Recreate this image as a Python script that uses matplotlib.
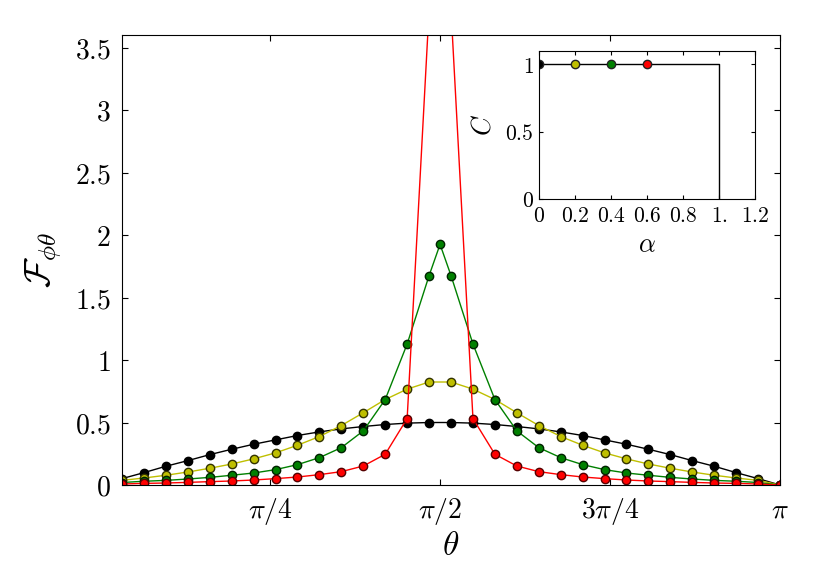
import matplotlib
matplotlib.use("Agg")
import matplotlib.pyplot as plt
import numpy as np

plt.rcParams['mathtext.fontset'] = 'cm'
plt.rcParams['font.family'] = 'serif'
plt.rcParams['font.serif'] = ['DejaVu Serif']

# theta grid: k*pi/31, k = 1..31
theta = np.arange(1, 32) * np.pi / 31

black = [0.051, 0.099, 0.150, 0.195, 0.243, 0.286, 0.326, 0.361, 0.396, 0.425,
         0.449, 0.468, 0.484, 0.495, 0.500,
         0.500, 0.495, 0.484, 0.468, 0.449, 0.425, 0.396, 0.361, 0.326, 0.286,
         0.243, 0.195, 0.150, 0.099, 0.051, 0.0]
yellow = [0.037, 0.056, 0.078, 0.104, 0.134, 0.168, 0.209, 0.257, 0.318, 0.388,
          0.476, 0.578, 0.684, 0.767, 0.824,
          0.824, 0.767, 0.684, 0.578, 0.476, 0.388, 0.318, 0.257, 0.209, 0.168,
          0.134, 0.104, 0.078, 0.056, 0.037, 0.0]
red = [0.008, 0.013, 0.016, 0.021, 0.027, 0.032, 0.040, 0.051, 0.064, 0.083,
       0.107, 0.152, 0.246, 0.532, 3.8,
       3.8, 0.532, 0.246, 0.152, 0.107, 0.083, 0.064, 0.051, 0.040, 0.032,
       0.027, 0.021, 0.016, 0.013, 0.008, 0.0]

# green has one extra sample at pi/2
theta_g = np.sort(np.append(theta, np.pi / 2))
green = [0.020, 0.030, 0.037, 0.048, 0.061, 0.078, 0.096, 0.123, 0.163, 0.219,
         0.299, 0.433, 0.684, 1.128, 1.675, 1.925,
         1.675, 1.128, 0.684, 0.433, 0.299, 0.219, 0.163, 0.123, 0.096, 0.078,
         0.061, 0.048, 0.037, 0.030, 0.020, 0.0]

# inset
alpha_line = [0, 1, 1]
c_line = [1, 1, 0]
alpha_pts = [0, 0.2, 0.4, 0.6]
c_pts = [1, 1, 1, 1]
cols = ['k', (0.75, 0.75, 0), (0, 0.5, 0), 'r']

fig = plt.figure(figsize=(8.3, 5.71), dpi=100)
ax = fig.add_axes([0.147, 0.1506, 0.7928, 0.7881])

ax.plot(theta, black, '-o', color='k', mfc='k', mec='k', ms=6, lw=1)
ax.plot(theta, yellow, '-o', color=cols[1], mfc=cols[1], mec='#333300', ms=6, lw=1)
ax.plot(theta_g, green, '-o', color=cols[2], mfc=cols[2], mec='#002200', ms=6, lw=1)
ax.plot(theta, red, '-o', color='r', mfc='r', mec='#550000', ms=6, lw=1)

ax.set_xlim(np.pi / 31, np.pi)
ax.set_ylim(0, 3.6)
ax.set_xticks([np.pi / 4, np.pi / 2, 3 * np.pi / 4, np.pi])
ax.set_xticklabels([r'$\pi/4$', r'$\pi/2$', r'$3\pi/4$', r'$\pi$'])
yt = [0, 0.5, 1, 1.5, 2, 2.5, 3, 3.5]
ax.set_yticks(yt)
ax.set_yticklabels(['$%g$' % v for v in yt])
ax.tick_params(direction='in', top=True, right=True, length=4, width=0.8,
               labelsize=20, pad=8)
ax.set_xlabel(r'$\theta$', fontsize=24, labelpad=2)
ax.set_ylabel(r'$\mathcal{F}_{\phi\theta}$', fontsize=26, labelpad=8)

ins = fig.add_axes([0.6498, 0.6515, 0.2602, 0.2597])
ins.plot(alpha_line, c_line, 'k-', lw=1)
for a, c, col in zip(alpha_pts, c_pts, cols):
    ins.plot(a, c, 'o', mfc=col, mec='#222222', ms=6, clip_on=True)
ins.set_xlim(0, 1.2)
ins.set_ylim(0, 1.1)
xt = [0, 0.2, 0.4, 0.6, 0.8, 1.0, 1.2]
ins.set_xticks(xt)
ins.set_xticklabels(['$0$', '$0.2$', '$0.4$', '$0.6$', '$0.8$', '$1.$', '$1.2$'])
ins.set_yticks([0, 0.5, 1])
ins.set_yticklabels(['$0$', '$0.5$', '$1$'])
ins.tick_params(direction='in', top=True, right=True, length=3, width=0.8,
                labelsize=15.5, pad=4)
ins.set_xlabel(r'$\alpha$', fontsize=19, labelpad=4)
ins.set_ylabel(r'$C$', fontsize=19, labelpad=7)

fig.savefig('out.png', dpi=100)
